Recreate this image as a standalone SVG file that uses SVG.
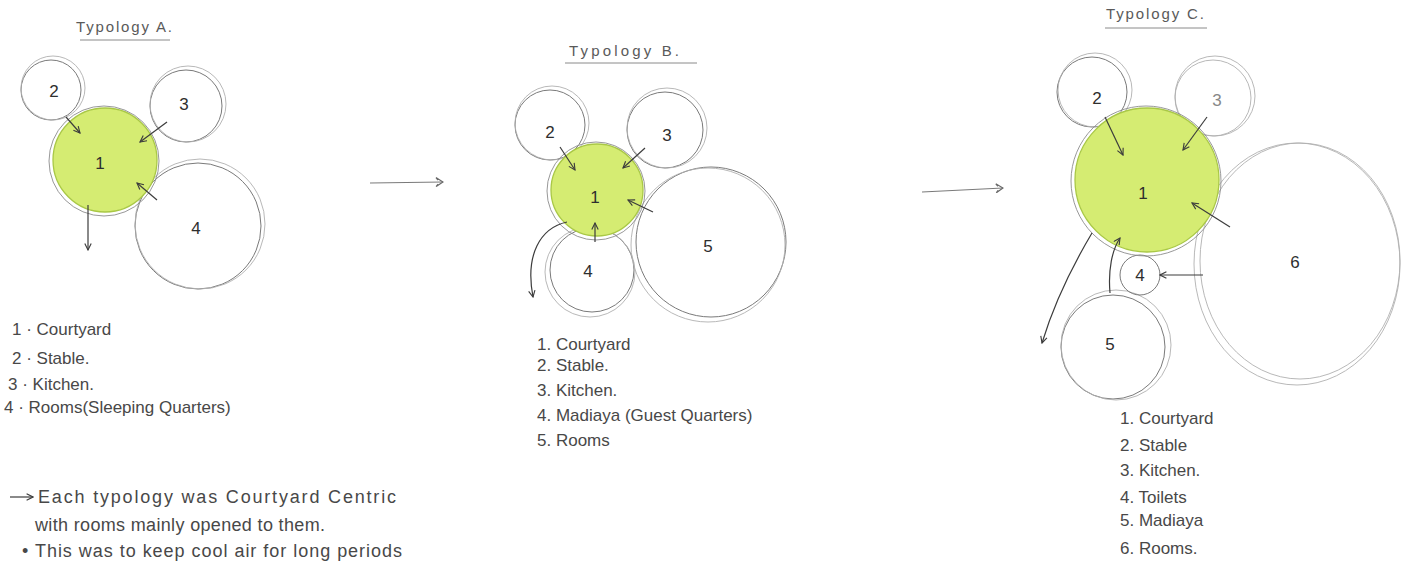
<svg xmlns="http://www.w3.org/2000/svg" width="1405" height="562" viewBox="0 0 1405 562">
<defs>
<style>
.bg{fill:#ffffff}
.c{fill:none;stroke:#7a7a7a;stroke-width:1}
.c2{fill:none;stroke:#b0b0b0;stroke-width:0.9}
.g{fill:#d5ec72;stroke:#a9c845;stroke-width:1.3}
.g2{fill:none;stroke:#8c8c8c;stroke-width:0.9}
.num{font-family:"Liberation Sans",Arial,sans-serif;font-size:17px;fill:#2e2e2e;text-anchor:middle}
.lg{font-family:"Liberation Sans",Arial,sans-serif;font-size:17px;fill:#484848}
.tt{font-family:"Liberation Sans",Arial,sans-serif;font-size:15px;fill:#5a5a5a}
.ul{stroke:#8a8a8a;stroke-width:1;fill:none}
.ar{fill:none;stroke:#3c3c3c;stroke-width:1.2;marker-end:url(#ah)}
.ar2{fill:none;stroke:#7a7a7a;stroke-width:1.1;marker-end:url(#ah2)}
</style>
<marker id="ah" viewBox="0 0 10 10" refX="9" refY="5" markerWidth="8" markerHeight="8" orient="auto" markerUnits="userSpaceOnUse">
<path d="M1,1 L9,5 L1,9" fill="none" stroke="#3c3c3c" stroke-width="1.4"/>
</marker>
<marker id="ah2" viewBox="0 0 10 10" refX="9" refY="5" markerWidth="10" markerHeight="10" orient="auto" markerUnits="userSpaceOnUse">
<path d="M2,0.5 L9,5 L2,9.5 M2,0.5 L4,3 M2,9.5 L4,7" fill="none" stroke="#6a6a6a" stroke-width="1.2"/>
</marker>
</defs>
<rect class="bg" x="0" y="0" width="1405" height="562"/>

<!-- Typology A -->
<g id="titleA"><text class="tt" x="76" y="32" textLength="96" lengthAdjust="spacing">Typology A.</text><path class="ul" d="M80,40 L170,40"/></g>
<g id="A2"><circle class="c" cx="51" cy="90" r="30"/><circle class="c2" cx="53" cy="88" r="32"/><text class="num" x="54" y="97">2</text></g>
<g id="A3"><circle class="c" cx="186" cy="106" r="36"/><circle class="c2" cx="188" cy="104" r="38"/><text class="num" x="184" y="110">3</text></g>
<g id="A4"><circle class="c" cx="198" cy="226" r="63"/><circle class="c2" cx="200" cy="224" r="65"/><text class="num" x="196" y="234">4</text></g>
<g id="A1"><circle class="g" cx="105" cy="160" r="52"/><circle class="g2" cx="104" cy="161" r="55"/><text class="num" x="100" y="169">1</text></g>

<!-- Typology B -->
<g id="titleB"><text class="tt" x="569" y="56" textLength="110" lengthAdjust="spacing">Typology B.</text><path class="ul" d="M565,63 L697,63"/></g>
<g id="B2"><circle class="c" cx="550" cy="125" r="35"/><circle class="c2" cx="552" cy="123" r="37"/><text class="num" x="550" y="138">2</text></g>
<g id="B3"><circle class="c" cx="665" cy="130" r="38"/><circle class="c2" cx="667" cy="128" r="40"/><text class="num" x="667" y="141">3</text></g>
<g id="B4"><circle class="c" cx="592" cy="270" r="42"/><circle class="c2" cx="590" cy="272" r="45"/><text class="num" x="588" y="277">4</text></g>
<g id="B5"><circle class="c" cx="711" cy="242" r="75"/><circle class="c2" cx="708" cy="245" r="77"/><text class="num" x="708" y="252">5</text></g>
<g id="B1"><circle class="g" cx="597" cy="190" r="46"/><circle class="g2" cx="596" cy="191" r="49"/><text class="num" x="595" y="203">1</text></g>

<!-- Typology C -->
<g id="titleC"><text class="tt" x="1106" y="19" textLength="98" lengthAdjust="spacing">Typology C.</text><path class="ul" d="M1105,28 L1207,28"/></g>
<g id="C2"><circle class="c" cx="1092" cy="92" r="35"/><circle class="c2" cx="1095" cy="90" r="37"/><text class="num" x="1097" y="104">2</text></g>
<g id="C3"><circle class="c2" cx="1213" cy="98" r="38"/><circle class="c2" cx="1215" cy="96" r="40"/><text class="num" x="1217" y="106" style="fill:#888">3</text></g>
<g id="C6"><ellipse class="c2" cx="1297" cy="264" rx="103" ry="121"/><ellipse class="c2" cx="1300" cy="261" rx="100" ry="118"/><text class="num" x="1295" y="268">6</text></g>
<g id="C5"><circle class="c" cx="1113" cy="347" r="52"/><circle class="c2" cx="1116" cy="345" r="55"/><text class="num" x="1110" y="350">5</text></g>
<g id="C4"><circle class="c" cx="1140" cy="275" r="20"/><text class="num" x="1140" y="281">4</text></g>
<g id="C1"><circle class="g" cx="1147" cy="180" r="72"/><circle class="g2" cx="1146" cy="181" r="75"/><text class="num" x="1143" y="199">1</text></g>

<!-- Connectors -->
<g id="connectors">
<path class="ar" d="M66,117 L80,133"/>
<path class="ar" d="M167,122 L140,142"/>
<path class="ar" d="M157,200 L137,183"/>
<path class="ar" d="M88,205 L88,250"/>
<path class="ar" d="M560,147 L575,170"/>
<path class="ar" d="M645,148 L623,168"/>
<path class="ar" d="M653,212 L628,200"/>
<path class="ar" d="M595,242 L595,223"/>
<path class="ar" d="M567,222 C540,228 525,255 533,297"/>
<path class="ar" d="M1105,117 L1123,155"/>
<path class="ar" d="M1207,117 L1183,150"/>
<path class="ar" d="M1230,227 L1192,203"/>
<path class="ar" d="M1203,275 L1160,275"/>
<path class="ar" d="M1110,293 C1108,270 1112,250 1120,238"/>
<path class="ar" d="M1092,233 C1070,270 1052,310 1042,343"/>
<path class="ar2" d="M370,183 L443,182"/>
<path class="ar2" d="M922,192 L1003,188"/>
</g>

<!-- Legends -->
<g id="legendA">
<text class="lg" x="12" y="335">1 · Courtyard</text>
<text class="lg" x="12" y="364">2 · Stable.</text>
<text class="lg" x="8" y="390">3 · Kitchen.</text>
<text class="lg" x="4" y="413">4 · Rooms(Sleeping Quarters)</text>
</g>
<g id="legendB">
<text class="lg" x="537" y="350">1. Courtyard</text>
<text class="lg" x="537" y="371">2. Stable.</text>
<text class="lg" x="537" y="396">3. Kitchen.</text>
<text class="lg" x="537" y="421">4. Madiaya (Guest Quarters)</text>
<text class="lg" x="537" y="446">5. Rooms</text>
</g>
<g id="legendC">
<text class="lg" x="1120" y="424">1. Courtyard</text>
<text class="lg" x="1120" y="451">2. Stable</text>
<text class="lg" x="1120" y="476">3. Kitchen.</text>
<text class="lg" x="1120" y="503">4. Toilets</text>
<text class="lg" x="1120" y="526">5. Madiaya</text>
<text class="lg" x="1120" y="554">6. Rooms.</text>
</g>
<g id="note">
<path class="ar" d="M10,497 L33,497"/>
<text class="lg" x="38" y="503" style="font-size:18px" textLength="358" lengthAdjust="spacing">Each typology was Courtyard Centric</text>
<text class="lg" x="35" y="531" style="font-size:18px" textLength="290" lengthAdjust="spacing">with rooms mainly opened to them.</text>
<text class="lg" x="22" y="557" style="font-size:18px" textLength="380" lengthAdjust="spacing">• This was to keep cool air for long periods</text>
</g>
</svg>
